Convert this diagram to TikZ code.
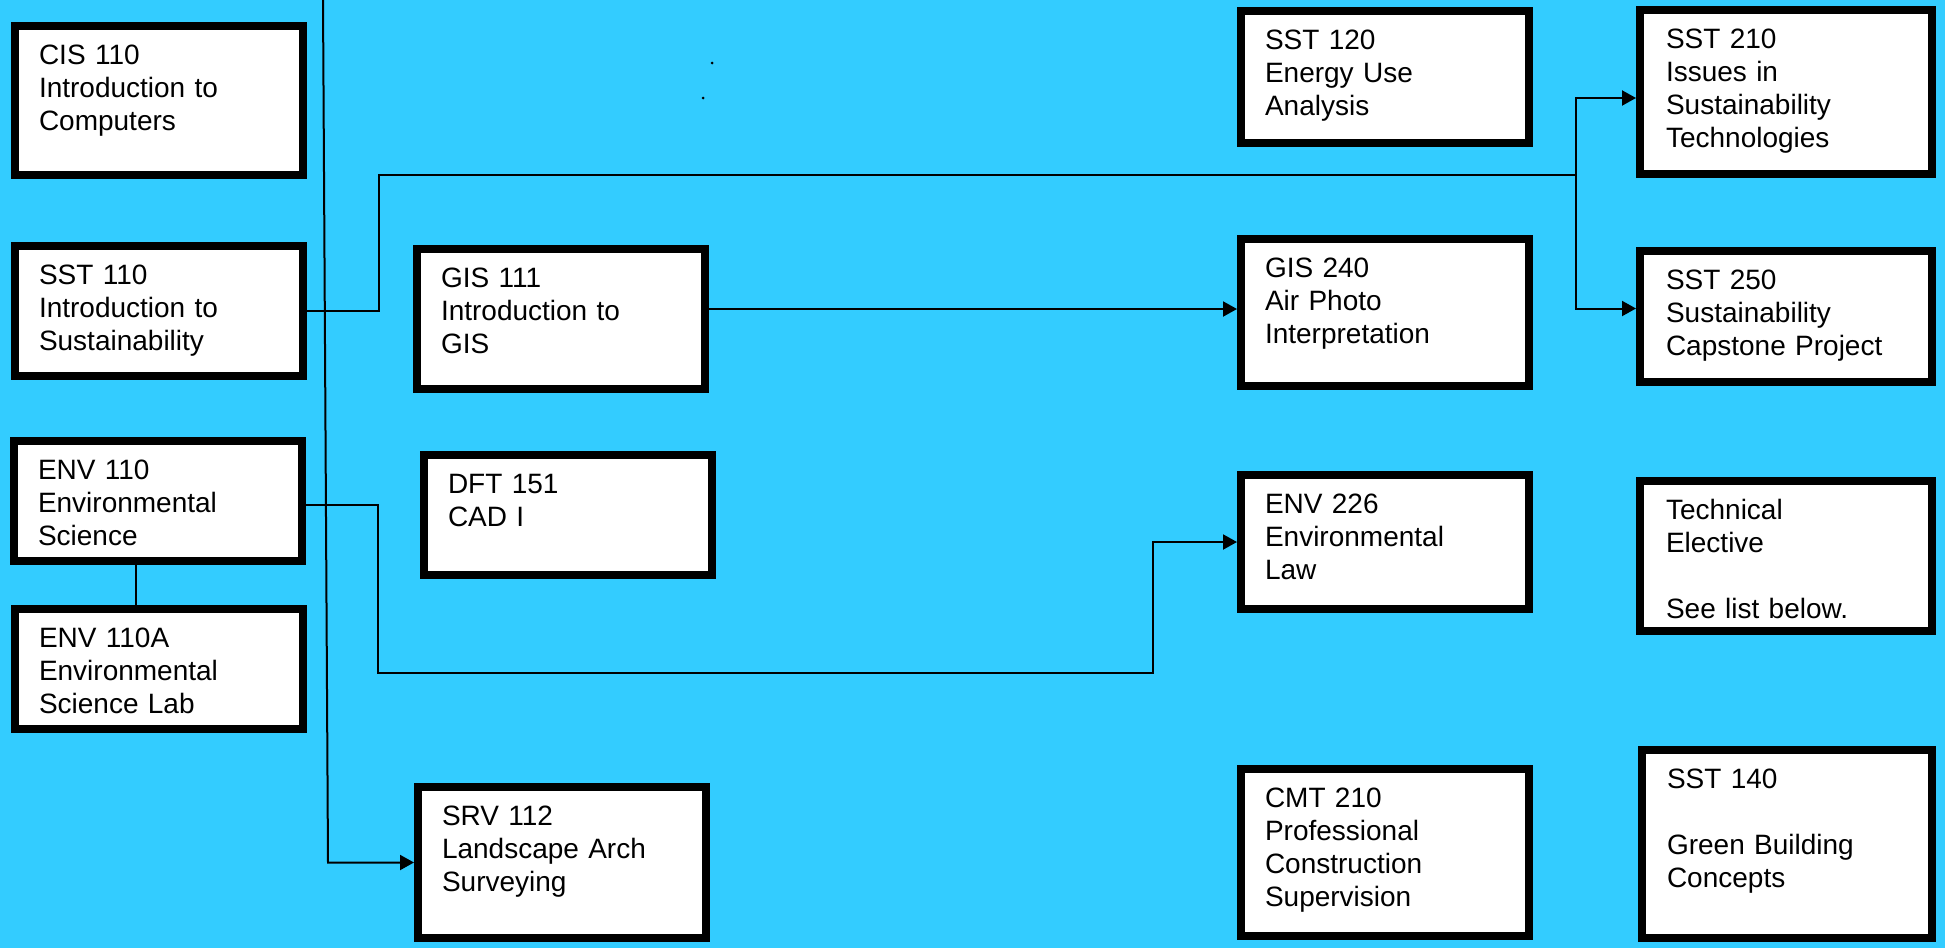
\documentclass[tikz,border=0pt]{standalone}
\usepackage{fontspec}
\setmainfont{Liberation Sans}
\usetikzlibrary{arrows.meta}
\definecolor{sky}{RGB}{51,204,255}
\begin{document}
\begin{tikzpicture}[x=1pt,y=-1pt]
		\tikzstyle{course} =[draw, line width=8pt, fill=white, anchor=north west, text width=240pt, inner xsep=24pt, inner ysep=18.5pt, align=left, text height=20pt, text depth=#1, font=\fontsize{28}{33}\selectfont];
		\tikzstyle{wire} =[line width=2pt];
		\tikzstyle{prereq} =[wire, -{Triangle[length=14pt,width=15pt]}];
		\useasboundingbox (0,0) rectangle (1945,948);
		\fill[sky] (0,0) rectangle (1945,948);
		\fill (712,63) circle (1.5pt) (703,98) circle (1.5pt);
		% first column
		\node[course=92pt] (cis110) at (11,22) {CIS 110\\Introduction to\\Computers};
		\node[course=73pt] (sst110) at (11,242) {SST 110\\Introduction to\\Sustainability};
		\node[course=63pt] (env110) at (10,437) {ENV 110\\Environmental\\Science};
		\node[course=63pt] (env110a) at (11,605) {ENV 110A\\Environmental\\Science Lab};
		% second column
		\node[course=83pt] (gis111) at (413,245) {GIS 111\\Introduction to\\GIS};
		\node[course=63pt] (dft151) at (420,451) {DFT 151\\CAD I};
		\node[course=94pt] (srv112) at (414,783) {SRV 112\\Landscape Arch\\Surveying};
		% third column
		\node[course=75pt] (sst120) at (1237,7) {SST 120\\Energy Use\\Analysis};
		\node[course=90pt] (gis240) at (1237,235) {GIS 240\\Air Photo\\Interpretation};
		\node[course=77pt] (env226) at (1237,471) {ENV 226\\Environmental\\Law};
		\node[course=110pt] (cmt210) at (1237,765) {CMT 210\\Professional\\Construction\\Supervision};
		% fourth column
		\node[course=107pt, minimum width=292pt] (sst210) at (1636,6) {SST 210\\Issues in\\Sustainability\\Technologies};
		\node[course=74pt, minimum width=292pt] (sst250) at (1636,247) {SST 250\\Sustainability\\Capstone Project};
		\node[course=93pt, minimum width=292pt] (techel) at (1636,477) {Technical\\Elective\\[33pt]See list below.};
		\node[course=131pt, minimum width=290pt] (sst140) at (1638,746) {SST 140\\[33pt]Green Building\\Concepts};
		
		\coordinate (feed) at (323,0);
		\coordinate (split) at (1576,175);
		\draw[prereq] (feed) -- ([xshift=5pt]feed |- srv112.west) -- (srv112.west);
		\draw[wire] (sst110.east) -- ++(72,0) |- (split);
		\draw[prereq] (split) |- ([yshift=-6pt]sst210.west);
		\draw[prereq] (split) |- ([yshift=8pt]sst250.west);
		\draw[prereq] ([yshift=10pt]gis111.east) -- ([yshift=10pt]gis111.east -| gis240.west);
		\draw[prereq] ([yshift=-4pt]env110.east) -| ++(72,168) -- ++(775,0) |- (env226.west);
		\draw[wire] ([xshift=-22pt]env110.south) -- ([xshift=-22pt]env110.south |- env110a.north);
	\end{tikzpicture}
\end{document}
